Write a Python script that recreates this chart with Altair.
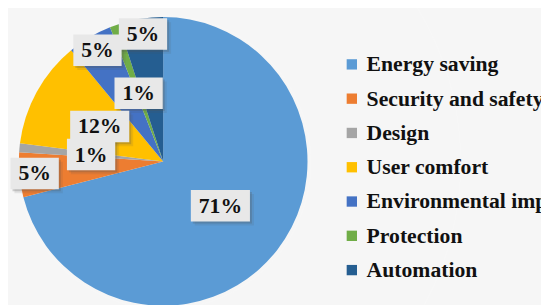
import altair as alt
import numpy as np
import pandas as pd

categories = ["Energy saving", "Security and safety", "Design", "User comfort",
              "Environmental impact", "Protection", "Automation"]
values = [71, 5, 1, 12, 5, 1, 5]
colors = ["#5B9BD5", "#ED7D31", "#A5A5A5", "#FFC000", "#4472C4", "#70AD47", "#255E91"]

W, H = 541, 297
CX, CY, R = 157.5, 153.5, 146.5
R_IN, R_OUT = 73.5, 131

df = pd.DataFrame({"category": categories, "value": values, "idx": range(len(values))})
df["label"] = [f"{v}%" for v in values]
tot = df["value"].sum()
cum = df["value"].cumsum()
mid = 2 * np.pi * (cum - df["value"] / 2) / tot
rad = np.where(df["value"] == 5, R_OUT, R_IN)
df["lx"] = CX + rad * np.sin(mid)
df["ly"] = CY - rad * np.cos(mid)
bw = 27 + 11 * df["label"].str.len()
bh = 32
df["x0"] = df["lx"] - bw / 2
df["x1"] = df["lx"] + bw / 2
df["y0"] = df["ly"] - bh / 2
df["y1"] = df["ly"] + bh / 2
for o in (2, 4):
    df[f"sx0_{o}"] = df["x0"] + o
    df[f"sx1_{o}"] = df["x1"] + o
    df[f"sy0_{o}"] = df["y0"] + o
    df[f"sy1_{o}"] = df["y1"] + o

xs = alt.Scale(domain=[0, W], nice=False, zero=False)
ys = alt.Scale(domain=[0, H], nice=False, zero=False, reverse=True)

ring = pd.DataFrame({"r": [149, 152, 155, 158]})
shadow = alt.Chart(ring).mark_arc(theta=0, theta2=2 * np.pi, color="#000000", opacity=0.035).encode(
    radius=alt.Radius("r:Q", scale=None),
    x=alt.value(CX + 1), y=alt.value(CY + 1),
)

pie = alt.Chart(df).mark_arc(radius=R).encode(
    theta=alt.Theta("value:Q", stack=True),
    order=alt.Order("idx:Q"),
    color=alt.Color(
        "category:N",
        scale=alt.Scale(domain=categories, range=colors),
        legend=alt.Legend(
            orient="none", legendX=338, legendY=44, title=None,
            symbolType="square", symbolSize=110, symbolStrokeWidth=0,
            labelFont="Liberation Serif", labelFontSize=22, labelFontWeight="bold",
            labelColor="#111111", labelLimit=500, rowPadding=12.8, labelOffset=4,
            padding=0,
        ),
    ),
    x=alt.value(CX), y=alt.value(CY),
)

def shadow_rect(o, op):
    return alt.Chart(df).mark_rect(color="#555555", opacity=op).encode(
        x=alt.X(f"sx0_{o}:Q", scale=xs, axis=None), x2=f"sx1_{o}:Q",
        y=alt.Y(f"sy0_{o}:Q", scale=ys, axis=None), y2=f"sy1_{o}:Q",
    )

boxes = alt.Chart(df).mark_rect(color="#E8E8E8").encode(
    x=alt.X("x0:Q", scale=xs, axis=None), x2="x1:Q",
    y=alt.Y("y0:Q", scale=ys, axis=None), y2="y1:Q",
)

texts = alt.Chart(df).mark_text(
    font="Liberation Serif", fontWeight="bold", fontSize=22, color="#111111", baseline="middle"
).encode(
    x=alt.X("lx:Q", scale=xs, axis=None),
    y=alt.Y("ly:Q", scale=ys, axis=None),
    text="label:N",
)

chart = alt.layer(shadow, pie, shadow_rect(4, 0.12), shadow_rect(2, 0.25), boxes, texts).properties(
    width=W, height=H, padding=0,
    autosize=alt.AutoSizeParams(type="none"),
).configure_view(stroke=None)

chart.save("out.html", embed_options={"renderer": "svg", "actions": False})
